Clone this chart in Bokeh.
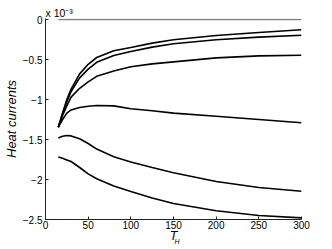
from bokeh.plotting import figure
from bokeh.models import Range1d, FixedTicker, LinearAxis
from bokeh.embed import file_html
from bokeh.resources import INLINE

# Temperature T_H
T = [15, 20, 25, 30, 40, 50, 60, 80, 100, 125, 150, 200, 250, 300]
# Heat currents (units of 1e-3)
c1 = [-1.346, -1.17, -1.00, -0.87, -0.68, -0.56, -0.475, -0.39, -0.35, -0.295, -0.254, -0.20, -0.163, -0.129]
c2 = [-1.346, -1.18, -1.03, -0.90, -0.73, -0.62, -0.535, -0.45, -0.40, -0.345, -0.304, -0.254, -0.22, -0.196]
c3 = [-1.346, -1.20, -1.08, -0.97, -0.86, -0.78, -0.71, -0.645, -0.59, -0.555, -0.53, -0.48, -0.455, -0.446]
c4 = [-1.346, -1.25, -1.17, -1.13, -1.10, -1.085, -1.075, -1.08, -1.115, -1.14, -1.17, -1.21, -1.25, -1.29]
c5 = [-1.48, -1.46, -1.45, -1.455, -1.49, -1.55, -1.62, -1.715, -1.78, -1.85, -1.915, -2.025, -2.10, -2.146]
c6 = [-1.72, -1.735, -1.755, -1.775, -1.85, -1.93, -1.99, -2.08, -2.15, -2.23, -2.30, -2.39, -2.45, -2.48]
zero_T = [15, 300]
zero_v = [0.0, 0.0]

x_ticks = [0, 50, 100, 150, 200, 250, 300]
y_ticks = [-2.5, -2, -1.5, -1, -0.5, 0]
y_tick_labels = {-2.5: "\u22122.5", -2: "\u22122", -1.5: "\u22121.5", -1: "\u22121", -0.5: "\u22120.5", 0: "0"}

FONT = "Liberation Sans"

p = figure(width=332, height=249, x_range=Range1d(0, 300), y_range=Range1d(-2.5, 0.0125),
           output_backend="svg", toolbar_location=None,
           min_border_left=43, min_border_right=31, min_border_top=18, min_border_bottom=30)
p.outline_line_color = None
p.xgrid.visible = False
p.ygrid.visible = False
p.background_fill_color = "white"

p.line(zero_T, zero_v, line_color="#808080", line_width=1.6)
for c in (c1, c2, c3, c4, c5, c6):
    p.line(T, c, line_color="black", line_width=1.6)

for ax in (p.xaxis[0], p.yaxis[0]):
    ax.major_tick_in = 3
    ax.major_tick_out = 0
    ax.minor_tick_line_color = None
    ax.axis_line_color = "#222222"
    ax.major_tick_line_color = "#222222"
    ax.major_label_text_font = FONT
    ax.major_label_text_font_size = "10px"
    ax.major_label_text_color = "black"
    ax.axis_label_text_font = FONT
    ax.axis_label_text_font_style = "italic"
    ax.axis_label_text_color = "black"

p.xaxis.ticker = FixedTicker(ticks=x_ticks)
p.yaxis.ticker = FixedTicker(ticks=y_ticks)
p.yaxis.major_label_overrides = y_tick_labels
p.xaxis.major_label_standoff = 1
p.yaxis.major_label_standoff = 3
p.xaxis.major_label_text_line_height = 1.0

p.yaxis.axis_label = "Heat currents"
p.yaxis.axis_label_text_font_size = "13px"
p.yaxis.axis_label_standoff = 1

p.xaxis.axis_label = "T"
p.xaxis.axis_label_text_font_size = "12.5px"
p.xaxis.axis_label_text_line_height = 1.0
p.xaxis.axis_label_standoff = -3

# subscript H of the x-axis label, as the label of a bare second axis
sub_axis = LinearAxis(ticker=FixedTicker(ticks=[]), axis_line_color=None,
                      major_tick_in=0, major_tick_out=0, minor_tick_in=0, minor_tick_out=0,
                      major_label_standoff=0, axis_label="\u2003H",
                      axis_label_text_font=FONT, axis_label_text_font_style="italic",
                      axis_label_text_font_size="7px", axis_label_text_color="black",
                      axis_label_text_line_height=1.0, axis_label_standoff=-8)
p.add_layout(sub_axis, "below")

# multiplier above the axis
p.title.text = "x 10\u207b\u00b3"
p.title.align = "left"
p.title.offset = 0
p.title.standoff = 0
p.title.text_font = FONT
p.title.text_font_style = "normal"
p.title.text_font_size = "10.5px"
p.title.text_color = "black"

open("out.html", "w").write(file_html(p, INLINE))
